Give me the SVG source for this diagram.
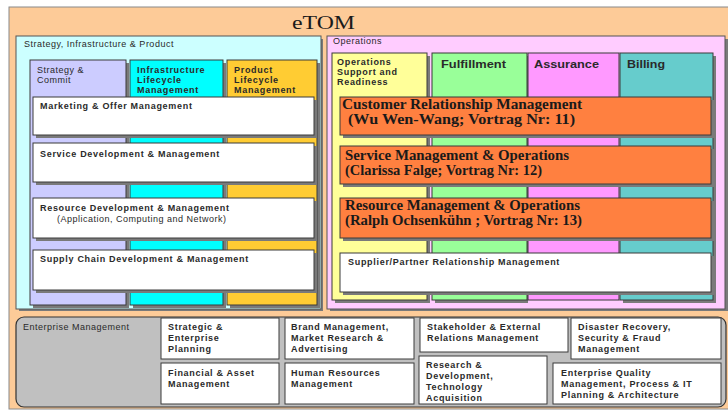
<svg xmlns="http://www.w3.org/2000/svg" width="728" height="410" viewBox="0 0 728 410">
<style>
.lbl{font-family:"Liberation Sans",Arial,sans-serif;font-size:9px;letter-spacing:0.5px;fill:#2a2a2a}
.b{font-family:"Liberation Sans",Arial,sans-serif;font-size:9px;letter-spacing:0.7px;font-weight:bold;fill:#2a2a2a}
.h{font-family:"Liberation Sans",Arial,sans-serif;font-size:11px;font-weight:bold;fill:#2a2a2a}
.ser{font-family:"Liberation Serif","Times New Roman",serif;font-size:14px;font-weight:bold;fill:#1a1a1a}
.col{stroke:#3a3a3a;stroke-width:1}
.box{fill:#fff;stroke:#3a3a3a;stroke-width:1}
.org{fill:#FF8040;stroke:#3a3a3a;stroke-width:1}
.sh{fill:#7a7a7a}
.em{fill:#fff;stroke:#3a3a3a;stroke-width:1}
</style>
<rect x="0" y="0" width="728" height="410" fill="#fff"/>
<g id="etom">
<rect x="9" y="7" width="722" height="402" fill="#FDCB98" stroke="#8a8a8a" stroke-width="1"/>
<text x="292" y="29" font-family="'Liberation Serif','Times New Roman',serif" font-size="19" fill="#1a1a1a" textLength="63" lengthAdjust="spacingAndGlyphs">eTOM</text>
</g>
<g id="strategy-panel">
<rect x="19" y="39" width="304" height="272" class="sh"/>
<rect x="16" y="36" width="305" height="273" fill="#CCFFFF" stroke="#555" stroke-width="1"/>
<text x="24" y="47" class="lbl">Strategy, Infrastructure &amp; Product</text>
</g>
<g id="col-strategy-commit">
<rect x="33" y="63" width="96" height="245" class="sh"/>
<rect x="30" y="60" width="96" height="245" fill="#CCCCFF" class="col"/>
<text x="37" y="73" class="lbl">Strategy &amp;</text>
<text x="37" y="83" class="lbl">Commit</text>
</g>
<g id="col-infrastructure">
<rect x="133" y="63" width="93" height="245" class="sh"/>
<rect x="130" y="60" width="93" height="245" fill="#00FFFF" class="col"/>
<text x="137" y="73" class="b">Infrastructure</text>
<text x="137" y="83" class="b">Lifecycle</text>
<text x="137" y="93" class="b">Management</text>
</g>
<g id="col-product">
<rect x="230" y="63" width="90" height="245" class="sh"/>
<rect x="227" y="60" width="90" height="245" fill="#FFCC33" class="col"/>
<text x="234" y="73" class="b">Product</text>
<text x="234" y="83" class="b">Lifecycle</text>
<text x="234" y="93" class="b">Management</text>
</g>
<g id="marketing-offer">
<rect x="36" y="100" width="281" height="38" class="sh"/>
<rect x="33" y="97" width="281" height="38" class="box"/>
<text x="40" y="109" class="b">Marketing &amp;  Offer Management</text>
</g>
<g id="service-development">
<rect x="36" y="146" width="281" height="39" class="sh"/>
<rect x="33" y="143" width="281" height="39" class="box"/>
<text x="40" y="157" class="b">Service Development &amp; Management</text>
</g>
<g id="resource-development">
<rect x="36" y="201" width="281" height="40" class="sh"/>
<rect x="33" y="198" width="281" height="40" class="box"/>
<text x="40" y="211" class="b">Resource Development &amp; Management</text>
<text x="57" y="222" class="lbl">(Application, Computing and Network)</text>
</g>
<g id="supply-chain">
<rect x="36" y="253" width="281" height="40" class="sh"/>
<rect x="33" y="250" width="281" height="40" class="box"/>
<text x="40" y="262" class="b">Supply Chain Development &amp; Management</text>
</g>
<g id="operations-panel">
<rect x="330" y="39" width="398" height="272" class="sh"/>
<rect x="327" y="36" width="398" height="273" fill="#FFCCFF" stroke="#555" stroke-width="1"/>
<text x="333" y="44" class="lbl">Operations</text>
</g>
<g id="col-osr">
<rect x="335" y="56" width="95" height="247" class="sh"/>
<rect x="332" y="53" width="95" height="247" fill="#FFFF99" class="col"/>
<text x="337" y="65" class="b">Operations</text>
<text x="337" y="75" class="b">Support and</text>
<text x="337" y="85" class="b">Readiness</text>
</g>
<g id="col-fulfillment">
<rect x="435" y="56" width="93" height="247" class="sh"/>
<rect x="432" y="53" width="95" height="247" fill="#99FF99" class="col"/>
<text x="441" y="68" class="h" textLength="65" lengthAdjust="spacingAndGlyphs">Fulfillment</text>
</g>
<g id="col-assurance">
<rect x="528" y="53" width="91" height="247" fill="#FF99FF" class="col"/>
<text x="534" y="68" class="h" textLength="65" lengthAdjust="spacingAndGlyphs">Assurance</text>
</g>
<g id="col-billing">
<rect x="623" y="56" width="93" height="247" class="sh"/>
<rect x="620" y="53" width="93" height="247" fill="#66CCCC" class="col"/>
<text x="627" y="68" class="h" textLength="38" lengthAdjust="spacingAndGlyphs">Billing</text>
</g>
<g id="crm">
<rect x="343" y="100" width="371" height="38" class="sh"/>
<rect x="340" y="97" width="371" height="38" class="org"/>
<text x="342" y="109" class="ser" textLength="240" lengthAdjust="spacingAndGlyphs">Customer Relationship Management</text>
<text x="348" y="124" class="ser" textLength="227" lengthAdjust="spacingAndGlyphs">(Wu Wen-Wang;  Vortrag Nr: 11)</text>
</g>
<g id="smo">
<rect x="343" y="149" width="371" height="38" class="sh"/>
<rect x="340" y="146" width="371" height="38" class="org"/>
<text x="345" y="160" class="ser" textLength="224" lengthAdjust="spacingAndGlyphs">Service Management &amp; Operations</text>
<text x="345" y="175" class="ser" textLength="197" lengthAdjust="spacingAndGlyphs">(Clarissa Falge; Vortrag Nr: 12)</text>
</g>
<g id="rmo">
<rect x="343" y="201" width="371" height="40" class="sh"/>
<rect x="340" y="198" width="371" height="40" class="org"/>
<text x="345" y="210" class="ser" textLength="235" lengthAdjust="spacingAndGlyphs">Resource Management &amp; Operations</text>
<text x="345" y="225" class="ser" textLength="237" lengthAdjust="spacingAndGlyphs">(Ralph Ochsenkühn ; Vortrag Nr: 13)</text>
</g>
<g id="supplier-partner">
<rect x="343" y="256" width="371" height="39" class="sh"/>
<rect x="340" y="253" width="371" height="39" class="box"/>
<text x="348" y="265" class="b">Supplier/Partner Relationship Management</text>
</g>
<g id="enterprise-management">
<rect x="16" y="317" width="710" height="90" rx="8" fill="#C0C0C0" stroke="#333" stroke-width="1.2"/>
<text x="23" y="330" class="lbl">Enterprise Management</text>
</g>
<g id="strategic-enterprise-planning">
<rect x="161" y="318" width="118" height="41" class="em"/>
<text x="168" y="330" class="b">Strategic &amp;</text>
<text x="168" y="341" class="b">Enterprise</text>
<text x="168" y="352" class="b">Planning</text>
</g>
<g id="brand-management">
<rect x="285" y="318" width="129" height="41" class="em"/>
<text x="291" y="330" class="b">Brand Management,</text>
<text x="291" y="341" class="b">Market Research &amp;</text>
<text x="291" y="352" class="b">Advertising</text>
</g>
<g id="stakeholder">
<rect x="420" y="318" width="148" height="34" class="em"/>
<text x="427" y="330" class="b">Stakeholder &amp; External</text>
<text x="427" y="341" class="b">Relations Management</text>
</g>
<g id="disaster-recovery">
<rect x="571" y="318" width="150" height="41" class="em"/>
<text x="578" y="330" class="b">Disaster Recovery,</text>
<text x="578" y="341" class="b">Security &amp; Fraud</text>
<text x="578" y="352" class="b">Management</text>
</g>
<g id="financial-asset">
<rect x="161" y="363" width="118" height="41" class="em"/>
<text x="168" y="376" class="b">Financial &amp; Asset</text>
<text x="168" y="387" class="b">Management</text>
</g>
<g id="human-resources">
<rect x="285" y="363" width="129" height="41" class="em"/>
<text x="291" y="376" class="b">Human Resources</text>
<text x="291" y="387" class="b">Management</text>
</g>
<g id="research-development">
<rect x="419" y="356" width="128" height="48" class="em"/>
<text x="426" y="368" class="b">Research &amp;</text>
<text x="426" y="379" class="b">Development,</text>
<text x="426" y="390" class="b">Technology</text>
<text x="426" y="401" class="b">Acquisition</text>
</g>
<g id="enterprise-quality">
<rect x="553" y="363" width="168" height="41" class="em"/>
<text x="561" y="376" class="b">Enterprise Quality</text>
<text x="561" y="387" class="b">Management, Process &amp;  IT</text>
<text x="561" y="398" class="b">Planning &amp; Architecture</text>
</g>
</svg>
